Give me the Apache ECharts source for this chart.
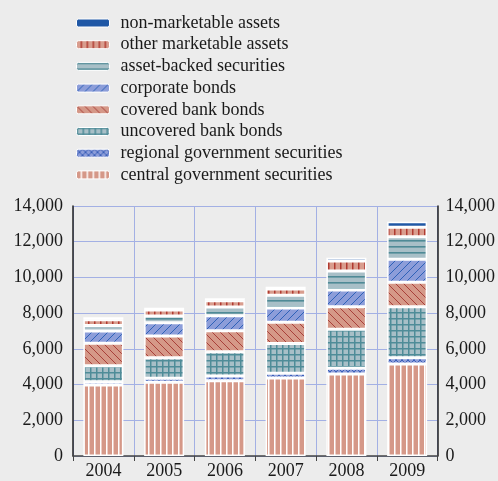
<!DOCTYPE html>
<html><head><meta charset="utf-8">
<script src="https://cdn.jsdelivr.net/npm/echarts@6/dist/echarts.min.js"></script>
<style>html,body{margin:0;padding:0;background:#ececec;}#c{width:498px;height:481px;}</style>
</head><body><div id="c"></div>
<script>
const years = ['2004','2005','2006','2007','2008','2009'];
const centralGov = [3980, 4130, 4220, 4370, 4590, 5150];
const regionalGov = [185, 225, 265, 265, 320, 355];
const uncoveredBank = [895, 1150, 1360, 1660, 2185, 2855];
const coveredBank = [1255, 1215, 1175, 1200, 1265, 1365];
const corporateBonds = [690, 745, 840, 800, 935, 1290];
const assetBacked = [300, 375, 485, 710, 1065, 1265];
const otherMarketable = [320, 335, 355, 350, 560, 525];
const nonMarketable = [140, 125, 135, 130, 185, 315];
const seriesNames = ['central government securities','regional government securities','uncovered bank bonds','covered bank bonds','corporate bonds','asset-backed securities','other marketable assets','non-marketable assets'];
const yTicks = [0, 2000, 4000, 6000, 8000, 10000, 12000, 14000];

function pat(w, h, draw) {
  const c = document.createElement('canvas');
  c.width = w; c.height = h;
  const g = c.getContext('2d');
  draw(g, w, h);
  return { image: c, repeat: 'repeat' };
}
const salmon = '#d59888';
const blueF = '#8c9dd9';
const tealF = '#a8bfc7';
const patterns = [
  pat(6, 4, (g) => { g.fillStyle = salmon; g.fillRect(0,0,6,4); g.fillStyle = '#ffffff'; g.fillRect(4,0,1,4); g.fillStyle = '#eccdc5'; g.fillRect(5,0,1,4); }),
  pat(6, 6, (g) => { g.fillStyle = blueF; g.fillRect(0,0,6,6); g.strokeStyle = '#3a5fb8'; g.lineWidth = 1;
    g.beginPath(); g.moveTo(0,0); g.lineTo(6,6); g.moveTo(0,6); g.lineTo(6,0); g.stroke(); }),
  pat(6, 6, (g) => { g.fillStyle = '#4f8c98'; g.fillRect(0,0,6,6); g.fillStyle = tealF; g.fillRect(1.5,1.5,4.5,4.5); }),
  pat(8, 8, (g) => { g.fillStyle = salmon; g.fillRect(0,0,8,8); g.strokeStyle = '#a8403a'; g.lineWidth = 1;
    g.beginPath(); g.moveTo(-1,-1); g.lineTo(9,9); g.moveTo(-1,7); g.lineTo(1,9); g.moveTo(7,-1); g.lineTo(9,1); g.stroke(); }),
  pat(8, 8, (g) => { g.fillStyle = blueF; g.fillRect(0,0,8,8); g.strokeStyle = '#2f62b8'; g.lineWidth = 1;
    g.beginPath(); g.moveTo(-1,9); g.lineTo(9,-1); g.moveTo(-1,1); g.lineTo(1,-1); g.moveTo(7,9); g.lineTo(9,7); g.stroke(); }),
  pat(4, 6, (g) => { g.fillStyle = tealF; g.fillRect(0,0,4,6); g.fillStyle = '#4f8a96'; g.fillRect(0,0,4,1.6); }),
  pat(6, 4, (g) => { g.fillStyle = '#d99d8e'; g.fillRect(0,0,6,4); g.fillStyle = '#b03a30'; g.fillRect(4,0,1.5,4); }),
  '#1f57a5'
];
const dataSets = [centralGov, regionalGov, uncoveredBank, coveredBank, corporateBonds, assetBacked, otherMarketable, nonMarketable];

const series = dataSets.map((d, i) => ({
  name: seriesNames[i], type: 'bar', stack: 'total', data: d, barWidth: 40,
  itemStyle: { color: patterns[i], borderColor: '#ffffff', borderWidth: 1.5 }
}));

const serif = 'Liberation Serif';
const fmt = v => v.toLocaleString('en-US');
const chart = echarts.init(document.getElementById('c'), null, { renderer: 'canvas' });
chart.setOption({
  backgroundColor: '#ececec',
  animation: false,
  legend: {
    orient: 'vertical', left: 71, top: 9,
    data: seriesNames.slice().reverse(),
    itemWidth: 33, itemHeight: 8, itemGap: 3.7,
    textStyle: { fontFamily: serif, fontSize: 18, color: '#1a1a1a', lineHeight: 18, padding: [0,0,0,6] },
    itemStyle: { borderColor: '#ffffff', borderWidth: 1 }
  },
  grid: { left: 73, right: 59, top: 206, bottom: 25 },
  xAxis: {
    type: 'category', data: years,
    axisLine: { lineStyle: { color: '#444', width: 1.5 } },
    axisTick: { show: true, length: 5, lineStyle: { color: '#444' } },
    axisLabel: { fontFamily: serif, fontSize: 18, color: '#1a1a1a', margin: 6 },
    splitLine: { show: true, lineStyle: { color: '#a3b0e4', width: 1 } }
  },
  yAxis: [
    { type: 'value', min: 0, max: 14000, interval: 2000, position: 'left',
      axisLine: { show: true, lineStyle: { color: '#222', width: 1.5 } },
      axisTick: { show: false },
      axisLabel: { fontFamily: serif, fontSize: 18, color: '#1a1a1a', margin: 10, formatter: fmt },
      splitLine: { show: true, lineStyle: { color: '#a3b0e4', width: 1 } } },
    { type: 'value', min: 0, max: 14000, interval: 2000, position: 'right',
      axisLine: { show: true, lineStyle: { color: '#222', width: 1.5 } },
      axisTick: { show: false },
      axisLabel: { fontFamily: serif, fontSize: 18, color: '#1a1a1a', margin: 8, formatter: fmt },
      splitLine: { show: false } }
  ],
  series: series
});
</script></body></html>
